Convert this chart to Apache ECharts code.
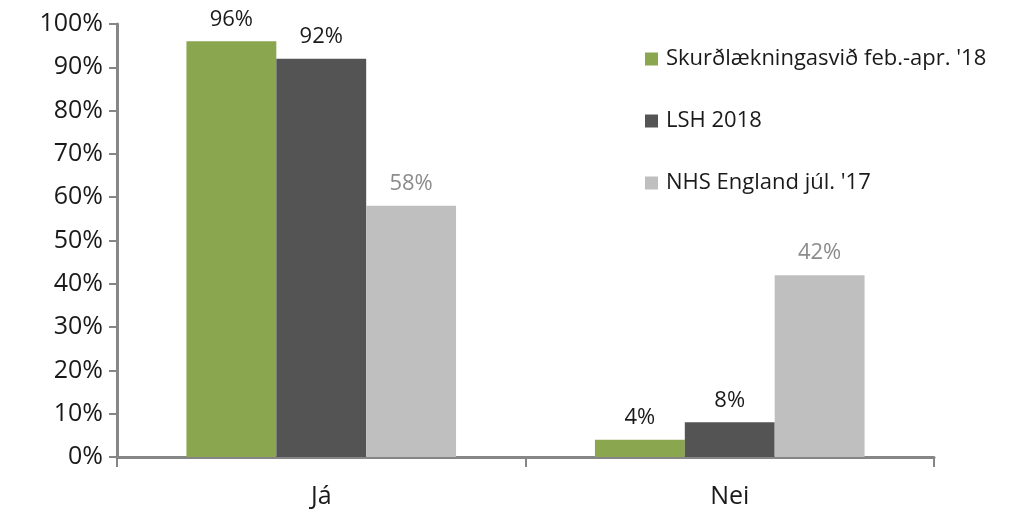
<!DOCTYPE html>
<html>
<head>
<meta charset="utf-8">
<script src="https://cdn.jsdelivr.net/npm/echarts@6/dist/echarts.min.js"></script>
<style>
  html, body { margin: 0; padding: 0; background: #fff; }
  #chart { width: 1009px; height: 513px; }
</style>
</head>
<body>
<div id="chart"></div>
<script>
// gögn
var categories = ['Já', 'Nei'];
var seriesNames = ["Skurðlækningasvið feb.-apr. '18", 'LSH 2018', "NHS England júl. '17"];
var skurdValues = [96, 4];
var lshValues = [92, 8];
var nhsValues = [58, 42];
var yTicks = [0, 10, 20, 30, 40, 50, 60, 70, 80, 90, 100];

var colors = ['#8aa64e', '#545454', '#bfbfbf'];
var labelColors = ['#1a1a1a', '#1a1a1a', '#8c8c8c'];
var font = '"Open Sans", "Noto Sans", sans-serif';

var myChart = echarts.init(document.getElementById('chart'));

function makeSeries(name, values, i) {
    return {
        name: name,
        type: 'bar',
        data: values,
        barGap: '0%',
        barCategoryGap: '34%',
        itemStyle: { color: colors[i] },
        label: {
            show: true,
            position: 'top',
            distance: 11,
            formatter: '{c}%',
            color: labelColors[i],
            fontFamily: font,
            fontSize: 22
        },
        animation: false
    };
}

var option = {
    backgroundColor: '#fff',
    grid: { left: 117, right: 75, top: 24, bottom: 56 },
    legend: {
        orient: 'vertical',
        left: 640,
        top: 41,
        itemWidth: 13,
        itemHeight: 13,
        itemGap: 36,
        icon: 'rect',
        textStyle: { fontFamily: font, fontSize: 22, lineHeight: 26, color: '#1a1a1a', padding: [0, 0, 0, 3] },
        data: seriesNames
    },
    xAxis: {
        type: 'category',
        data: categories,
        axisLine: { lineStyle: { color: '#868686', width: 3 } },
        axisTick: { show: true, length: 10, lineStyle: { color: '#868686', width: 2 } },
        axisLabel: { fontFamily: font, fontSize: 25, color: '#1a1a1a', margin: 27 }
    },
    yAxis: {
        type: 'value',
        min: 0,
        max: 100,
        interval: 10,
        axisLine: { show: true, lineStyle: { color: '#868686', width: 3 } },
        axisTick: { show: true, length: 8, lineStyle: { color: '#868686', width: 2 } },
        splitLine: { show: false },
        axisLabel: {
            fontFamily: font, fontSize: 25, color: '#1a1a1a', margin: 14,
            formatter: function (v) { return yTicks.indexOf(v) >= 0 ? v + '%' : ''; }
        }
    },
    series: [
        makeSeries(seriesNames[0], skurdValues, 0),
        makeSeries(seriesNames[1], lshValues, 1),
        makeSeries(seriesNames[2], nhsValues, 2)
    ]
};

myChart.setOption(option);
</script>
</body>
</html>
